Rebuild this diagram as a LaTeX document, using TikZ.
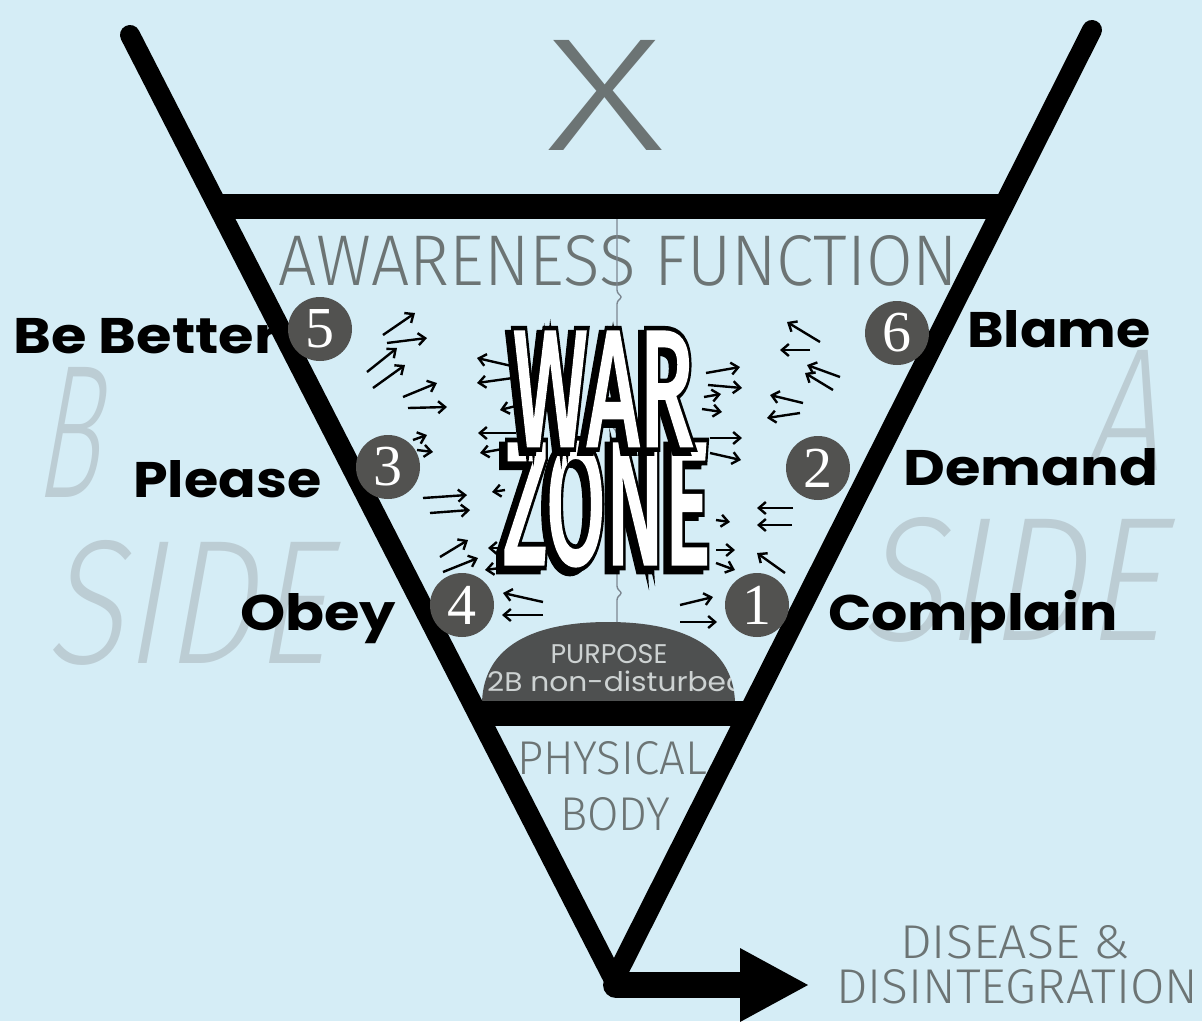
\documentclass[tikz,border=0pt]{standalone}
\usepackage{fontspec}
\usepackage{graphicx}
\usetikzlibrary{arrows.meta}
\setmainfont{Poppins}
\newfontfamily\lightf{Fira Sans Light}
\newfontfamily\numf{Liberation Serif}
\newfontfamily\wzf{Fira Sans}[FakeBold=3]
\newfontfamily\wzfe{Fira Sans}[FakeBold=8.5]
\definecolor{bgc}{RGB}{213,237,246}
\definecolor{gtxt}{RGB}{108,116,116}
\definecolor{faint}{RGB}{188,205,212}
\definecolor{circ}{RGB}{82,82,80}
\definecolor{humpc}{RGB}{78,80,80}
\definecolor{humptxt}{RGB}{205,210,210}
\definecolor{wavyc}{RGB}{125,135,145}
\tikzset{
  lbl/.style={font=\fontsize{50}{60}\selectfont\bfseries, anchor=base west, inner sep=0, text=black},
  graytxt/.style={text=gtxt, anchor=base west, inner sep=0, font=\lightf},
  faded/.style={text=faint, anchor=base west, inner sep=0, font=\lightf, transform shape, xslant=0.18},
  numc/.style={circle, fill=circ, minimum size=64pt, inner sep=0, text=white, font=\numf\fontsize{58}{58}\selectfont},
  warr/.style={line width=2.4pt, -{Straight Barb[length=7pt,width=12pt]}},
  vline/.style={line width=20pt, line cap=round, line join=round},
  wz/.style={anchor=base west, inner sep=0},
}
% word of the WAR ZONE title: name, x, y, width, height, text
\newcommand\wzword[6]{%
  \node[wz, text=black, shift={(-6,4)}] (#1s) at (#2,#3) {\resizebox{#4pt}{#5pt}{\wzfe\fontsize{10}{10}\selectfont #6}};
  \node[wz, text=black] (#1e) at (#2,#3) {\resizebox{#4pt}{#5pt}{\wzfe\fontsize{10}{10}\selectfont #6}};
  \node[wz, text=white] (#1) at (#2,#3) {\resizebox{#4pt}{#5pt}{\wzf\fontsize{10}{10}\selectfont #6}};
}
\begin{document}
\begin{tikzpicture}[x=1pt,y=-1pt]
\fill[bgc] (0,0) rectangle (1202,1021);
\useasboundingbox (0,0) rectangle (1202,1021);

% faded side letters
\begin{scope}[shift={(33,497)}]\node[faded] (fB) at (0,0) {\resizebox{64pt}{130pt}{B}};\end{scope}
\begin{scope}[shift={(45,663)}]\node[faded] (fS1) at (0,0) {\resizebox{282pt}{123pt}{SIDE}};\end{scope}
\begin{scope}[shift={(1083,470)}]\node[faded] (fA) at (0,0) {\resizebox{76pt}{120pt}{A}};\end{scope}
\begin{scope}[shift={(860,640)}]\node[faded] (fS2) at (0,0) {\resizebox{301pt}{123pt}{SIDE}};\end{scope}

% gray texts
\node[graytxt] (X) at (546,150) {\resizebox{118pt}{110pt}{X}};
\node[graytxt] (aw) at (278,285) {\resizebox{680pt}{50pt}{AWARENESS FUNCTION}};
\node[graytxt] (phys) at (517,774) {\resizebox{190pt}{33pt}{PHYSICAL}};
\node[graytxt] (body) at (560,830) {\resizebox{110pt}{33pt}{BODY}};
\node[graytxt] (dis1) at (900,958) {\resizebox{230pt}{33pt}{DISEASE \&}};
\node[graytxt] (dis2) at (836,1003) {\resizebox{362pt}{34pt}{DISINTEGRATION}};

% labels
\node[lbl] (bb) at (13,353) {\scalebox{1.15}[1]{Be Better}};
\node[lbl] (pl) at (133,497) {\scalebox{1.11}[1]{Please}};
\node[lbl] (ob) at (240,630) {\scalebox{1.15}[1]{Obey}};
\node[lbl] (bl) at (967,347) {\scalebox{1.11}[1]{Blame}};
\node[lbl] (de) at (903,485) {\scalebox{1.15}[1]{Demand}};
\node[lbl] (co) at (828,630) {\scalebox{1.14}[1]{Complain}};

% purpose hump
\begin{scope}
  \clip (482,702) .. controls (484,645) and (535,622) .. (608,622) .. controls (681,622) and (733,645) .. (735,702) -- cycle;
  \fill[humpc] (470,600) rectangle (750,705);
  \node[anchor=base, text=humptxt, font=\fontsize{27}{27}\selectfont, inner sep=0] (purp) at (609,663) {PURPOSE};
  \node[anchor=base west, text=humptxt, font=\fontsize{27}{27}\selectfont, inner sep=0] (nd) at (487,691) {\scalebox{1.1}[1]{2B non-disturbed}};
\end{scope}

% wavy divider
\draw[wavyc, line width=1.4pt] (617,219) -- (617,290) .. controls (617,294) and (621,295) .. (621,297) .. controls (621,299) and (617,300) .. (617,304)
  -- (617,420) .. controls (617,424) and (613,425) .. (613,427) .. controls (613,429) and (617,430) .. (617,434)
  -- (617,586) .. controls (617,590) and (621,591) .. (621,593) .. controls (621,595) and (617,596) .. (617,600) -- (617,622);

% frame
\coordinate (L) at (130,35);
\coordinate (V) at (614,980);
\coordinate (R) at (1092,30);
\draw[line width=25pt] (218,206) -- (1003,206);
\draw[line width=25pt] (477,713) -- (748,713);
\draw[vline] (L) -- (V) -- (R);
\draw[line width=26pt, line cap=round] (616,985) -- (745,985);
\fill (740,948) -- (808,985) -- (740,1022) -- cycle;

% circles
\node[numc] (c5) at (320,329) {5};
\node[numc] (c3) at (388,467) {3};
\node[numc] (c4) at (462,605) {4};
\node[numc] (c6) at (897,333) {6};
\node[numc] (c2) at (818,468) {2};
\node[numc] (c1) at (757,605) {1};

% small arrows
\foreach \xa/\ya/\xb/\yb in {
  383/335/415/313, 387/343/427/338, 367/372/397/348, 373/388/405/365,
  403/397/437/383, 408/408/447/407, 413/440/427/435, 417/450/433/452,
  423/498/467/495, 430/513/470/510, 440/557/468/540, 443/572/478/558,
  543/602/503/593, 543/615/502/615,
  516/367/477/358, 513/378/477/383, 520/405/500/410,
  516/433/478/433, 514/447/480/453, 505/490/492/492, 500/548/488/548, 500/568/485/570,
  706/373/740/367, 708/385/742/388, 704/397/721/394, 702/409/722/412,
  710/438/742/438, 710/453/741/460, 716/520/730/522, 716/550/735/550, 716/563/735/570,
  680/605/713/597, 680/622/717/622,
  820/342/787/322, 810/350/780/350, 840/377/807/365, 833/390/805/373,
  803/403/770/395, 800/413/767/418, 793/508/757/508, 792/525/757/525, 785/573/757/553}
  \draw[warr] (\xa,\ya) -- (\xb,\yb);

% WAR ZONE title
\wzword{zone}{503}{563}{207}{120}{ZONE}
\wzword{war}{513}{445}{180}{112}{WAR}
\end{tikzpicture}
\end{document}
